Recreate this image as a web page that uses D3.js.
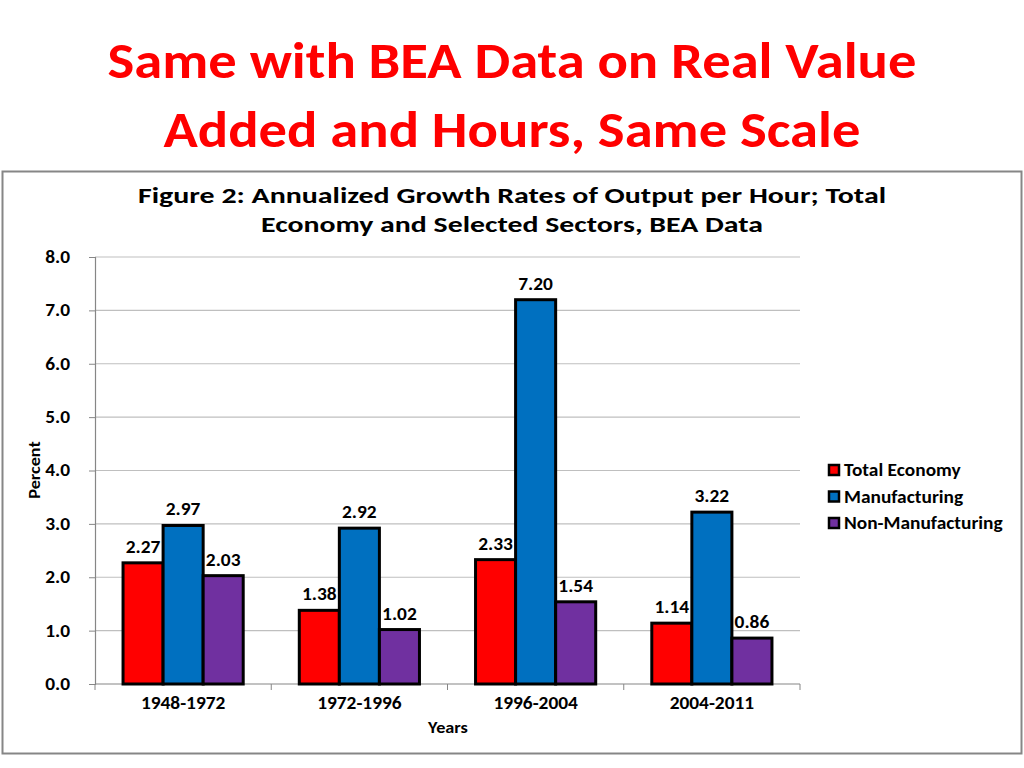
<!DOCTYPE html>
<html><head><meta charset="utf-8">
<script src="https://cdn.jsdelivr.net/npm/d3@7"></script>
<style>
html,body{margin:0;padding:0;background:#fff;}
text{font-family:Carlito,Calibri,Lato,"Open Sans",sans-serif;}
</style></head>
<body>
<svg id="c" width="1024" height="768"></svg>
<script>
const categories = ["1948-1972","1972-1996","1996-2004","2004-2011"];
const seriesNames = ["Total Economy","Manufacturing","Non-Manufacturing"];
const seriesColors = ["#FF0000","#0070C0","#7030A0"];
const totalEconomy = [2.27,1.38,2.33,1.14];
const manufacturing = [2.97,2.92,7.20,3.22];
const nonManufacturing = [2.03,1.02,1.54,0.86];
const yTicks = [0,1,2,3,4,5,6,7,8];
const titleLines = ["Same with BEA Data on Real Value","Added and Hours, Same Scale"];
const chartTitleLines = ["Figure 2: Annualized Growth Rates of Output per Hour; Total","Economy and Selected Sectors, BEA Data"];

const series = [totalEconomy, manufacturing, nonManufacturing];
const svg = d3.select("#c");
const K = 1.14;
function stretch(sel){
  sel.each(function(){
    const w = this.getComputedTextLength();
    d3.select(this).attr("textLength", w*K).attr("lengthAdjust","spacingAndGlyphs");
  });
}

// slide title
svg.selectAll("text.title").data(titleLines).enter().append("text")
  .attr("class","title")
  .attr("x",512).attr("y",(d,i)=>78+i*69)
  .attr("text-anchor","middle")
  .attr("fill","#FF0000").attr("font-weight","bold").attr("font-size",51)
  .attr("textLength",(d,i)=>[809,697][i]).attr("lengthAdjust","spacingAndGlyphs")
  .text(d=>d);

// chart border
svg.append("rect").attr("x",2.5).attr("y",171.5).attr("width",1019).attr("height",582)
  .attr("fill","#fff").attr("stroke","#868686").attr("stroke-width",2);

// chart title
svg.selectAll("text.ctitle").data(chartTitleLines).enter().append("text")
  .attr("class","ctitle")
  .attr("x",512).attr("y",(d,i)=>203+i*29)
  .attr("text-anchor","middle").attr("font-weight","bold").attr("font-size",21.5).attr("fill","#000")
  .attr("textLength",(d,i)=>[748,502][i]).attr("lengthAdjust","spacingAndGlyphs")
  .text(d=>d);

const pLeft=95,pRight=800,pTop=257,pBottom=684;
const x = d3.scaleBand().domain(categories).range([pLeft,pRight]).paddingInner(0).paddingOuter(0);
const x1 = d3.scaleBand().domain(d3.range(series.length)).range([0,x.bandwidth()]).paddingInner(0).paddingOuter(0.7);
const y = d3.scaleLinear().domain([0,8]).range([pBottom,pTop]);

// gridlines
svg.append("g").selectAll("line").data(yTicks.slice(1)).enter().append("line")
  .attr("x1",pLeft).attr("x2",pRight).attr("y1",d=>y(d)).attr("y2",d=>y(d))
  .attr("stroke","#BFBFBF").attr("stroke-width",1.2);

// y axis
const yAxis = d3.axisLeft(y).tickValues(yTicks).tickFormat(d3.format(".1f")).tickSize(6).tickPadding(19);
const gy = svg.append("g").attr("transform",`translate(${pLeft},0)`).call(yAxis);
gy.select(".domain").attr("stroke","#868686").attr("stroke-width",1.2);
gy.selectAll(".tick line").attr("stroke","#868686");
gy.selectAll(".tick text").attr("font-size",17).attr("font-weight","bold").attr("fill","#000")
  .attr("font-family","Carlito,Calibri,Lato,sans-serif").call(stretch);

// x axis
const xAxis = d3.axisBottom(x).tickSize(0).tickPadding(13);
const gx = svg.append("g").attr("transform",`translate(0,${pBottom})`).call(xAxis);
gx.select(".domain").attr("stroke","#868686").attr("stroke-width",1.2).attr("d",`M${pLeft},0H${pRight}`);
gx.selectAll(".tick text").attr("font-size",17).attr("font-weight","bold").attr("fill","#000")
  .attr("font-family","Carlito,Calibri,Lato,sans-serif").call(stretch);
gx.append("g").selectAll("line").data(categories.map(c=>x(c)).concat([pRight])).enter().append("line")
  .attr("x1",d=>d).attr("x2",d=>d).attr("y1",0).attr("y2",6).attr("stroke","#868686");

// bars
const groups = svg.append("g").selectAll("g").data(categories).enter().append("g")
  .attr("transform",d=>`translate(${x(d)},0)`);
groups.selectAll("rect").data((c,ci)=>series.map((s,si)=>({si,v:s[ci]}))).enter().append("rect")
  .attr("x",d=>x1(d.si)).attr("width",x1.bandwidth())
  .attr("y",d=>y(d.v)).attr("height",d=>y(0)-y(d.v))
  .attr("fill",d=>seriesColors[d.si]).attr("stroke","#000").attr("stroke-width",3);
groups.selectAll("text").data((c,ci)=>series.map((s,si)=>({si,v:s[ci]}))).enter().append("text")
  .attr("x",d=>x1(d.si)+x1.bandwidth()/2).attr("y",d=>y(d.v)-10)
  .attr("text-anchor","middle").attr("font-size",17).attr("font-weight","bold")
  .text(d=>d.v.toFixed(2)).call(stretch);

// axis titles
svg.append("text").attr("transform","translate(40,470) rotate(-90)").attr("text-anchor","middle")
  .attr("font-size",16).attr("font-weight","bold").text("Percent").call(stretch);
svg.append("text").attr("x",448).attr("y",733).attr("text-anchor","middle")
  .attr("font-size",16).attr("font-weight","bold").text("Years").call(stretch);

// legend
const lg = svg.append("g").selectAll("g").data(seriesNames).enter().append("g")
  .attr("transform",(d,i)=>`translate(828,${470+i*26.5})`);
lg.append("rect").attr("x",1).attr("y",-5).attr("width",10).attr("height",10)
  .attr("fill",(d,i)=>seriesColors[i]).attr("stroke","#000").attr("stroke-width",2.5);
lg.append("text").attr("x",16).attr("y",6).attr("font-size",17).attr("font-weight","bold").text(d=>d).call(stretch);
</script>
</body></html>
